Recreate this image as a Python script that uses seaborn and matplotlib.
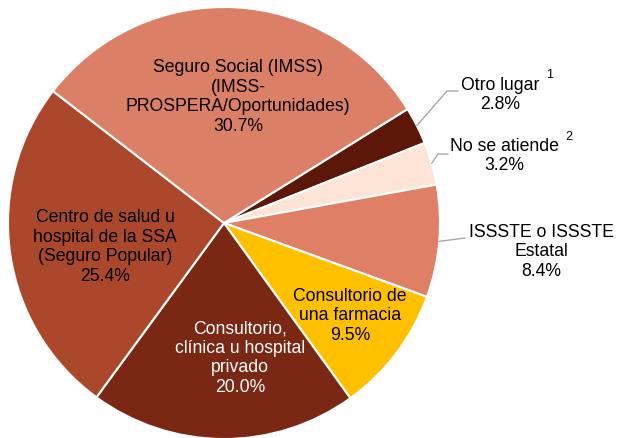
import matplotlib
matplotlib.use("Agg")
import matplotlib.pyplot as plt
import seaborn as sns
import numpy as np

sns.set_style("white")
plt.rcParams['font.family'] = ['Liberation Sans', 'DejaVu Sans']

categories = ["Otro lugar", "No se atiende", "ISSSTE o ISSSTE\nEstatal",
              "Consultorio de\nuna farmacia",
              "Consultorio,\nclínica u hospital\nprivado",
              "Centro de salud u\nhospital de la SSA\n(Seguro Popular)",
              "Seguro Social (IMSS)\n(IMSS-\nPROSPERA/Oportunidades)"]
values = [2.8, 3.2, 8.4, 9.5, 20.0, 25.4, 30.7]
colors = ["#5c1709", "#fde4d6", "#df7f66", "#ffc000", "#7a2813", "#ab482c", "#dc7f67"]

W, H = 618, 438
CX, CY, R = 224, 223, 216

def px(x, y):
    return ((x - CX) / R, (CY - y) / R)

fig = plt.figure(figsize=(W / 100, H / 100), dpi=100)
ax = fig.add_axes([(CX - R) / W, (H - CY - R) / H, 2 * R / W, 2 * R / H])
wedges, _ = ax.pie(values, colors=colors, startangle=31.84, counterclock=False,
                   radius=1, wedgeprops=dict(edgecolor="white", linewidth=1.5))
ax.set_xlim(-1, 1)
ax.set_ylim(-1, 1)
ax.set_aspect("equal")
ax.axis("off")

fs = 12.7
# inside labels
inside = {3: ((350, 316), "black"), 4: ((240, 358), "white"),
          5: ((105, 247), "black"), 6: ((238, 97), "black")}
for i, ((x, y), c) in inside.items():
    ax.text(*px(x, y), f"{categories[i]}\n{values[i]:.1f}%", ha="center", va="center",
            fontsize=fs, color=c, linespacing=1.2)

# outside labels with leader lines
outside = {0: ((500, 95), [(447, 91), (458, 91)], (550, 75), "1"),
           1: ((504, 156), [(438, 154), (448, 154)], (569, 137), "2"),
           2: ((541, 252), [(465, 238)], None, None)}
for i, ((x, y), pts, sup, s) in outside.items():
    w = wedges[i]
    ang = np.deg2rad((w.theta1 + w.theta2) / 2)
    xs = [np.cos(ang)] + [px(a, b)[0] for a, b in pts]
    ys = [np.sin(ang)] + [px(a, b)[1] for a, b in pts]
    ax.plot(xs, ys, color="#a6a6a6", lw=1, clip_on=False)
    ax.text(*px(x, y), f"{categories[i]}\n{values[i]:.1f}%", ha="center", va="center",
            fontsize=fs, color="black", linespacing=1.2, clip_on=False)
    if sup:
        ax.text(*px(*sup), s, ha="center", va="center", fontsize=9, color="black")

fig.savefig("out.png", dpi=100)
